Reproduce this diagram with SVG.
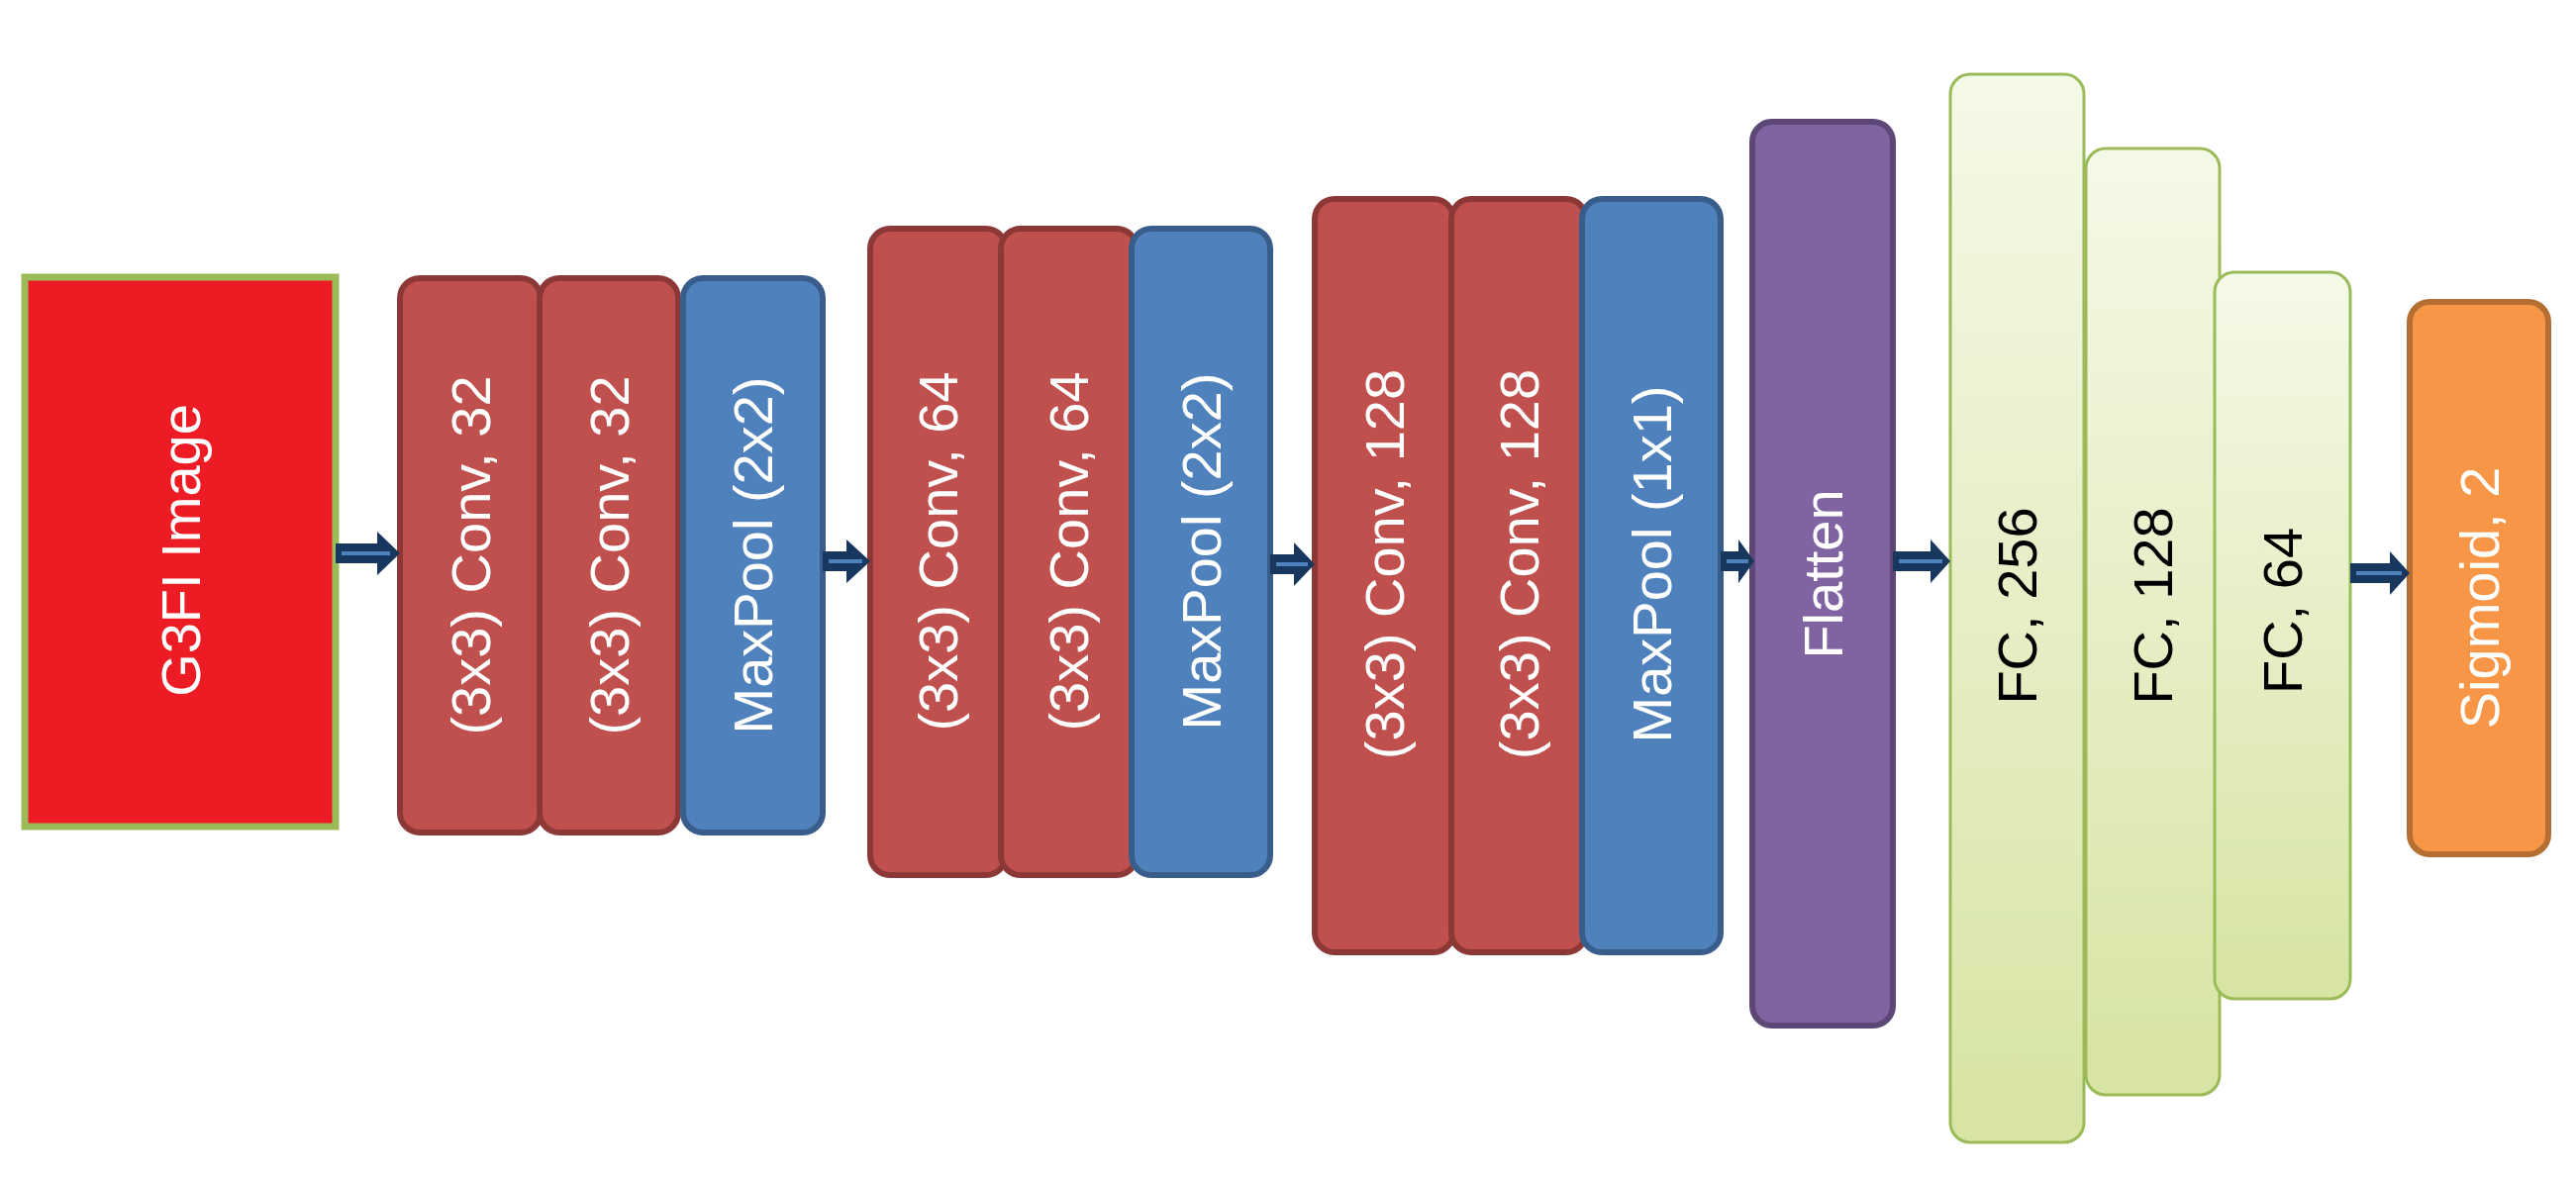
<svg xmlns="http://www.w3.org/2000/svg" width="2602" height="1190" viewBox="0 0 2602 1190">
<style>
text{font-family:"Liberation Sans",Arial,sans-serif;font-size:56px;text-anchor:middle;dominant-baseline:central}
.w{fill:#fff}.k{fill:#000}
.conv{fill:#C0504D;stroke:#8C3836;stroke-width:6}
.pool{fill:#4F81BD;stroke:#385D8A;stroke-width:6}
.flat{fill:#8064A2;stroke:#5C4776;stroke-width:6}
.fc{fill:url(#g);stroke:#9BBB59;stroke-width:3}
.sig{fill:#F79646;stroke:#B66D31;stroke-width:6}
.ah{fill:#17375E}
.ai{stroke:#4F81BD;stroke-width:4}
</style>
<defs>
<linearGradient id="g" x1="0" y1="0" x2="0" y2="1"><stop offset="0" stop-color="#F5F9E8"/><stop offset="1" stop-color="#D7E4A3"/></linearGradient>
</defs>
<rect width="2602" height="1190" fill="#fff"/>
<g id="n-input"><rect x="25" y="280" width="314" height="555" fill="#ED1C24" stroke="#9BBB59" stroke-width="7"/><text class="w" transform="translate(182,556) rotate(-90)">G3FI Image</text></g>
<g id="n-conv32a"><rect class="conv" x="404" y="281" width="142" height="560" rx="20"/><text class="w" transform="translate(475,561) rotate(-90)">(3x3) Conv, 32</text></g>
<g id="n-conv32b"><rect class="conv" x="545" y="281" width="140" height="560" rx="20"/><text class="w" transform="translate(615,561) rotate(-90)">(3x3) Conv, 32</text></g>
<g id="n-pool1"><rect class="pool" x="690" y="281" width="141" height="560" rx="20"/><text class="w" transform="translate(760,561) rotate(-90)">MaxPool (2x2)</text></g>
<g id="n-conv64a"><rect class="conv" x="879" y="231" width="137" height="653" rx="20"/><text class="w" transform="translate(947,557) rotate(-90)">(3x3) Conv, 64</text></g>
<g id="n-conv64b"><rect class="conv" x="1011" y="231" width="137" height="653" rx="20"/><text class="w" transform="translate(1079,557) rotate(-90)">(3x3) Conv, 64</text></g>
<g id="n-pool2"><rect class="pool" x="1143" y="231" width="140" height="653" rx="20"/><text class="w" transform="translate(1213,557) rotate(-90)">MaxPool (2x2)</text></g>
<g id="n-conv128a"><rect class="conv" x="1328" y="201" width="140" height="761" rx="20"/><text class="w" transform="translate(1398,570) rotate(-90)">(3x3) Conv, 128</text></g>
<g id="n-conv128b"><rect class="conv" x="1466" y="201" width="136" height="761" rx="20"/><text class="w" transform="translate(1534,570) rotate(-90)">(3x3) Conv, 128</text></g>
<g id="n-pool3"><rect class="pool" x="1598" y="201" width="140" height="761" rx="20"/><text class="w" transform="translate(1668,570) rotate(-90)">MaxPool (1x1)</text></g>
<g id="n-flatten"><rect class="flat" x="1770" y="123" width="142" height="913" rx="20"/><text class="w" transform="translate(1841,580) rotate(-90)">Flatten</text></g>
<g id="n-fc256"><rect class="fc" x="1970" y="75" width="135" height="1079" rx="20"/><text class="k" transform="translate(2037,612) rotate(-90)">FC, 256</text></g>
<g id="n-fc128"><rect class="fc" x="2107" y="150" width="135" height="956" rx="20"/><text class="k" transform="translate(2174,612) rotate(-90)">FC, 128</text></g>
<g id="n-fc64"><rect class="fc" x="2237" y="275" width="137" height="734" rx="20"/><text class="k" transform="translate(2305,617) rotate(-90)">FC, 64</text></g>
<g id="n-sigmoid"><rect class="sig" x="2434" y="305" width="140" height="558" rx="20"/><text class="w" transform="translate(2504,604) rotate(-90)">Sigmoid, 2</text></g>
<g id="connectors">
<g transform="translate(339,559)"><polygon class="ah" points="0,-10 42,-10 42,-22 65,0 42,22 42,10 0,10"/><line class="ai" x1="6" y1="0" x2="55" y2="0"/></g>
<g transform="translate(831,567)"><polygon class="ah" points="0,-10 24,-10 24,-22 48,0 24,22 24,10 0,10"/><line class="ai" x1="6" y1="0" x2="40" y2="0"/></g>
<g transform="translate(1283,570)"><polygon class="ah" points="0,-10 24,-10 24,-22 45,0 24,22 24,10 0,10"/><line class="ai" x1="6" y1="0" x2="38" y2="0"/></g>
<g transform="translate(1738,567)"><polygon class="ah" points="0,-10 18,-10 18,-22 34,0 18,22 18,10 0,10"/><line class="ai" x1="6" y1="0" x2="28" y2="0"/></g>
<g transform="translate(1912,567)"><polygon class="ah" points="0,-10 38,-10 38,-22 58,0 38,22 38,10 0,10"/><line class="ai" x1="6" y1="0" x2="50" y2="0"/></g>
<g transform="translate(2374,579)"><polygon class="ah" points="0,-10 40,-10 40,-22 60,0 40,22 40,10 0,10"/><line class="ai" x1="6" y1="0" x2="52" y2="0"/></g>
</g>
</svg>
